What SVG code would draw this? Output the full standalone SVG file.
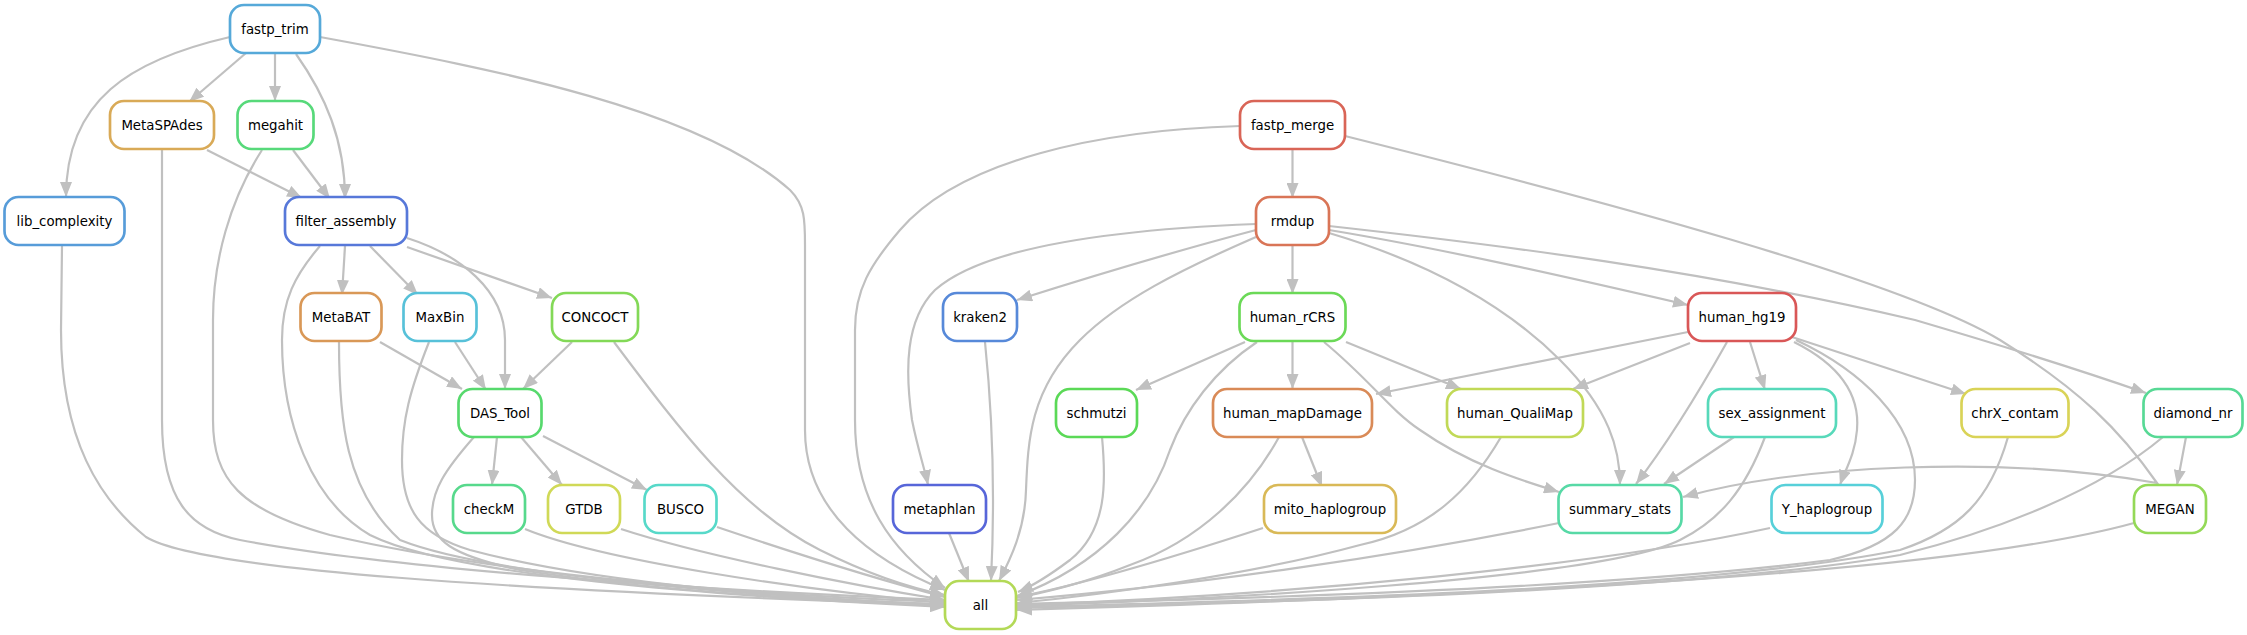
<svg xmlns="http://www.w3.org/2000/svg" width="2247" height="635" viewBox="0 0 2247 635">
<style>
.n rect{fill:#ffffff;stroke-width:2.67}
.n text{font-family:"DejaVu Sans","Liberation Sans",sans-serif;font-size:13.33px;fill:#000;text-anchor:middle}
.e path{fill:none;stroke:#c0c0c0;stroke-width:2.2;marker-end:url(#ah)}
</style>
<defs>
<marker id="ah" markerUnits="userSpaceOnUse" markerWidth="16" markerHeight="12" refX="15" refY="6" orient="auto" viewBox="0 0 16 12">
<path d="M0,0 L15,6 L0,12 z" fill="#c0c0c0"/>
</marker>
</defs>
<rect width="2247" height="635" fill="#ffffff"/>
<g id="edges" class="e">
<path d="M230,37 C130,60 66,100 66,197"/>
<path d="M246,53 L189,102"/>
<path d="M275,53 L275,101"/>
<path d="M296,54 C325,95 345,140 345,199"/>
<path d="M320,37 C500,70 700,110 790,190 C805,205 805,220 805,245 L805,430 C805,510 870,560 945,590"/>
<path d="M207,150 L302,198"/>
<path d="M293,150 L330,199"/>
<path d="M162,150 L162,420 C162,500 190,530 240,540 C400,570 700,590 945,600"/>
<path d="M262,150 C230,200 213,260 213,320 L213,420 C213,480 240,510 330,535 C500,575 750,595 945,602"/>
<path d="M62,246 L61,330 C61,440 100,500 146,537 C200,570 500,590 945,605"/>
<path d="M345,246 L342,295"/>
<path d="M370,246 L418,295"/>
<path d="M407,247 L552,298"/>
<path d="M407,238 C460,255 505,290 505,340 L505,389"/>
<path d="M320,246 C295,275 282,300 282,340 C282,420 310,500 370,535 C450,575 700,595 945,607"/>
<path d="M380,342 L462,389"/>
<path d="M455,342 L486,390"/>
<path d="M572,342 L523,389"/>
<path d="M339,342 C339,420 345,490 400,540 C500,580 800,598 945,605"/>
<path d="M429,342 C410,390 402,420 402,460 C402,510 420,535 470,550 C600,585 800,598 945,606"/>
<path d="M614,342 C680,430 740,510 820,550 C870,575 910,588 945,595"/>
<path d="M497,437 L492,485"/>
<path d="M521,437 L562,485"/>
<path d="M543,436 L647,490"/>
<path d="M474,437 C445,470 432,490 432,515 C432,540 450,555 520,570 C650,590 800,600 945,604"/>
<path d="M525,529 C600,560 800,590 945,603"/>
<path d="M621,529 C700,555 850,585 945,600"/>
<path d="M717,527 C800,555 880,580 945,597"/>
<path d="M1292.5,150 L1292.5,198"/>
<path d="M1292.5,246 L1292.5,294"/>
<path d="M1240,126 C1100,130 960,160 900,230 C870,265 855,290 855,330 L855,420 C855,500 890,550 945,588"/>
<path d="M1256,224 C1100,230 980,250 935,290 C905,320 905,370 912,420 C918,450 925,470 928,485"/>
<path d="M1256,230 C1180,250 1080,280 1017,300"/>
<path d="M1256,237 C1180,270 1120,300 1080,340 C1030,390 1028,440 1026,490 C1025,530 1010,560 999,581"/>
<path d="M1329,230 C1450,250 1580,280 1688,305"/>
<path d="M1329,226 C1500,245 1700,270 1915,320 C2000,345 2080,370 2146,393"/>
<path d="M1329,233 C1420,260 1500,300 1560,360 C1610,410 1620,450 1620,485"/>
<path d="M1345,136 C1600,200 1900,280 2000,340 C2080,390 2120,430 2157,483 C2000,455 1800,465 1683,497"/>
<path d="M1245,342 L1136,390"/>
<path d="M1292.5,342 L1292.5,389"/>
<path d="M1346,342 L1461,389"/>
<path d="M1324,342 C1370,380 1390,410 1420,430 C1470,465 1520,480 1559,492"/>
<path d="M1257,342 C1215,370 1185,410 1170,450 C1150,510 1100,565 1017,596"/>
<path d="M1688,332 L1376,394"/>
<path d="M1690,343 L1573,389"/>
<path d="M1727,342 C1700,390 1670,440 1636,484"/>
<path d="M1750,342 L1765,390"/>
<path d="M1794,342 C1840,365 1860,395 1857,430 C1855,455 1845,470 1840,485"/>
<path d="M1792,337 L1966,394"/>
<path d="M1796,340 C1860,370 1915,420 1915,480 C1915,520 1895,545 1830,560 C1600,590 1200,600 1017,604"/>
<path d="M1734,437 L1664,484"/>
<path d="M1765,437 C1745,490 1720,520 1680,540 C1600,580 1200,600 1017,606"/>
<path d="M2008,437 C1990,500 1960,530 1900,550 C1700,590 1300,600 1017,607"/>
<path d="M2186,437 L2177,485"/>
<path d="M2163,437 C2100,490 2000,530 1900,555 C1700,590 1300,602 1017,608"/>
<path d="M2134,523 C2000,560 1700,590 1017,610"/>
<path d="M1770,528 C1600,565 1300,595 1017,605"/>
<path d="M1559,523 C1400,555 1200,585 1017,600"/>
<path d="M1501,437 C1470,490 1430,530 1360,545 C1250,575 1100,595 1017,603"/>
<path d="M1279,437 C1250,490 1200,540 1130,565 C1080,585 1040,593 1017,598"/>
<path d="M1302,437 L1322,487"/>
<path d="M1263,528 C1180,555 1080,585 1017,597"/>
<path d="M1102,437 C1106,480 1108,530 1070,560 C1050,575 1035,585 1018,592"/>
<path d="M985,342 C993,420 995,500 991,581"/>
<path d="M949,533 L969,582"/>
</g>
<g id="fastp_trim" class="n"><rect x="230" y="5" width="90" height="48" rx="14" stroke="#56a9d9"/><text x="275" y="33.5">fastp_trim</text></g>
<g id="MetaSPAdes" class="n"><rect x="110" y="101" width="104" height="48" rx="14" stroke="#d9aa57"/><text x="162" y="129.5">MetaSPAdes</text></g>
<g id="megahit" class="n"><rect x="237.5" y="101" width="76" height="48" rx="14" stroke="#57d97a"/><text x="275.5" y="129.5">megahit</text></g>
<g id="fastp_merge" class="n"><rect x="1240" y="101" width="105" height="48" rx="14" stroke="#d96557"/><text x="1292.5" y="129.5">fastp_merge</text></g>
<g id="lib_complexity" class="n"><rect x="4.5" y="197" width="120" height="48" rx="14" stroke="#579cd9"/><text x="64.5" y="225.5">lib_complexity</text></g>
<g id="filter_assembly" class="n"><rect x="285" y="197" width="122" height="48" rx="14" stroke="#5778d9"/><text x="346" y="225.5">filter_assembly</text></g>
<g id="rmdup" class="n"><rect x="1256" y="197" width="73" height="48" rx="14" stroke="#d97557"/><text x="1292.5" y="225.5">rmdup</text></g>
<g id="MetaBAT" class="n"><rect x="300.5" y="293" width="81" height="48" rx="14" stroke="#d99857"/><text x="341" y="321.5">MetaBAT</text></g>
<g id="MaxBin" class="n"><rect x="403.5" y="293" width="73" height="48" rx="14" stroke="#57c1d9"/><text x="440" y="321.5">MaxBin</text></g>
<g id="CONCOCT" class="n"><rect x="552" y="293" width="86" height="48" rx="14" stroke="#83d957"/><text x="595" y="321.5">CONCOCT</text></g>
<g id="kraken2" class="n"><rect x="943" y="293" width="74" height="48" rx="14" stroke="#5789d9"/><text x="980" y="321.5">kraken2</text></g>
<g id="human_rCRS" class="n"><rect x="1239.5" y="293" width="106" height="48" rx="14" stroke="#6bd957"/><text x="1292.5" y="321.5">human_rCRS</text></g>
<g id="human_hg19" class="n"><rect x="1688" y="293" width="108" height="48" rx="14" stroke="#d95757"/><text x="1742" y="321.5">human_hg19</text></g>
<g id="DAS_Tool" class="n"><rect x="458.5" y="389" width="83" height="48" rx="14" stroke="#57d96d"/><text x="500" y="417.5">DAS_Tool</text></g>
<g id="schmutzi" class="n"><rect x="1056" y="389" width="81" height="48" rx="14" stroke="#5bd957"/><text x="1096.5" y="417.5">schmutzi</text></g>
<g id="human_mapDamage" class="n"><rect x="1213" y="389" width="159" height="48" rx="14" stroke="#d98a57"/><text x="1292.5" y="417.5">human_mapDamage</text></g>
<g id="human_QualiMap" class="n"><rect x="1447" y="389" width="136" height="48" rx="14" stroke="#c1d957"/><text x="1515" y="417.5">human_QualiMap</text></g>
<g id="sex_assignment" class="n"><rect x="1708" y="389" width="128" height="48" rx="14" stroke="#57d9ba"/><text x="1772" y="417.5">sex_assignment</text></g>
<g id="chrX_contam" class="n"><rect x="1961.5" y="389" width="107" height="48" rx="14" stroke="#d9d357"/><text x="2015" y="417.5">chrX_contam</text></g>
<g id="diamond_nr" class="n"><rect x="2143.5" y="389" width="99" height="48" rx="14" stroke="#57d995"/><text x="2193" y="417.5">diamond_nr</text></g>
<g id="checkM" class="n"><rect x="453" y="485" width="72" height="48" rx="14" stroke="#57d98c"/><text x="489" y="513.5">checkM</text></g>
<g id="GTDB" class="n"><rect x="548" y="485" width="72" height="48" rx="14" stroke="#d0d957"/><text x="584" y="513.5">GTDB</text></g>
<g id="BUSCO" class="n"><rect x="644.5" y="485" width="72" height="48" rx="14" stroke="#57d9c9"/><text x="680.5" y="513.5">BUSCO</text></g>
<g id="metaphlan" class="n"><rect x="893" y="485" width="93" height="48" rx="14" stroke="#5766d9"/><text x="939.5" y="513.5">metaphlan</text></g>
<g id="mito_haplogroup" class="n"><rect x="1264" y="485" width="132" height="48" rx="14" stroke="#d9b957"/><text x="1330" y="513.5">mito_haplogroup</text></g>
<g id="summary_stats" class="n"><rect x="1558.5" y="485" width="123" height="48" rx="14" stroke="#57d9a6"/><text x="1620" y="513.5">summary_stats</text></g>
<g id="Y_haplogroup" class="n"><rect x="1771.5" y="485" width="111" height="48" rx="14" stroke="#57d0d9"/><text x="1827" y="513.5">Y_haplogroup</text></g>
<g id="MEGAN" class="n"><rect x="2134" y="485" width="72" height="48" rx="14" stroke="#94d957"/><text x="2170" y="513.5">MEGAN</text></g>
<g id="all" class="n"><rect x="945" y="581" width="71" height="48" rx="14" stroke="#b3d957"/><text x="980.5" y="609.5">all</text></g>
</svg>
